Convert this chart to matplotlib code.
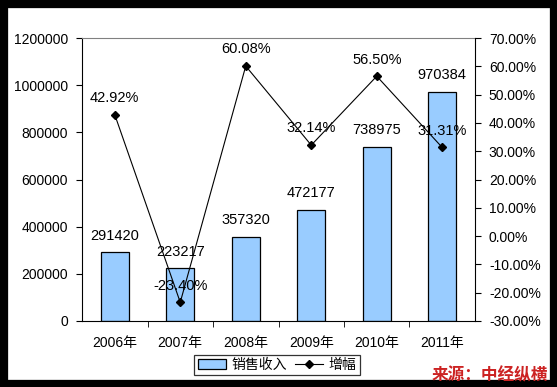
import matplotlib.pyplot as plt
from matplotlib.patches import Rectangle
from matplotlib.ticker import FuncFormatter, MultipleLocator

plt.rcParams["font.family"] = ["Liberation Sans", "Noto Sans CJK SC"]

years = ["2006年", "2007年", "2008年", "2009年", "2010年", "2011年"]
revenue = [291420, 223217, 357320, 472177, 738975, 970384]
growth = [42.92, -23.40, 60.08, 32.14, 56.50, 31.31]


def main() -> None:
    fig = plt.figure(figsize=(5.57, 3.87), dpi=100)

    # black frame round the whole picture
    fig.patches.append(
        Rectangle((0, 0), 1, 1, transform=fig.transFigure, fill=False,
                  edgecolor="black", linewidth=11, zorder=0)
    )

    ax = fig.add_axes([82 / 557, 1 - 321 / 387, (475 - 82) / 557, (321 - 38) / 387])
    x = range(len(years))

    bars = ax.bar(x, revenue, width=0.42, color="#99CCFF", edgecolor="black",
                  linewidth=0.9, label="销售收入", zorder=2)
    ax.set_ylim(0, 1200000)
    ax.set_xlim(-0.5, len(years) - 0.5)
    ax.yaxis.set_major_locator(MultipleLocator(200000))
    ax.yaxis.set_major_formatter(FuncFormatter(lambda v, _: f"{v:.0f}"))
    ax.set_xticks(list(x))
    ax.set_xticklabels(years)
    ax.set_xticks([i + 0.5 for i in range(len(years) - 1)], minor=True)
    ax.tick_params(axis="x", which="major", length=0, pad=11, labelsize=10)
    ax.tick_params(axis="x", which="minor", length=4, direction="out")
    ax.tick_params(axis="y", length=4, direction="out", labelsize=10, pad=6)
    ax.spines["top"].set_color("#808080")
    ax.spines["right"].set_visible(False)

    for i, v in enumerate(revenue):
        ax.annotate(str(v), (i, v), xytext=(0, 12), textcoords="offset points",
                    ha="center", va="center", fontsize=10.5)

    ax2 = ax.twinx()
    line, = ax2.plot(list(x), growth, color="black", linewidth=0.8,
                     marker="D", markersize=4, label="增幅", zorder=3)
    ax2.set_ylim(-30, 70)
    ax2.yaxis.set_major_locator(MultipleLocator(10))
    ax2.yaxis.set_major_formatter(FuncFormatter(lambda v, _: f"{v:.2f}%"))
    ax2.tick_params(axis="y", length=4, direction="out", labelsize=10, pad=6)
    for s in ["top", "left", "bottom"]:
        ax2.spines[s].set_visible(False)

    for i, v in enumerate(growth):
        ax2.annotate(f"{v:.2f}%", (i, v), xytext=(0, 12), textcoords="offset points",
                     ha="center", va="center", fontsize=10.5)

    leg = fig.legend([bars, line], ["销售收入", "增幅"], loc="center",
                     bbox_to_anchor=(277 / 557, 1 - 365 / 387), ncol=2,
                     frameon=True, fancybox=False, fontsize=10,
                     handlelength=2.0, handletextpad=0.4, columnspacing=0.6,
                     borderpad=0.25, borderaxespad=0)
    leg.get_frame().set_edgecolor("black")
    leg.get_frame().set_linewidth(0.9)

    fig.text(548 / 557, 1 - 375 / 387, "来源：中经纵横", color="#CC2222",
             fontsize=12, fontweight="bold", style="italic",
             ha="right", va="center")

    fig.savefig("out.png", dpi=100)
    plt.close(fig)


if __name__ == "__main__":
    main()
